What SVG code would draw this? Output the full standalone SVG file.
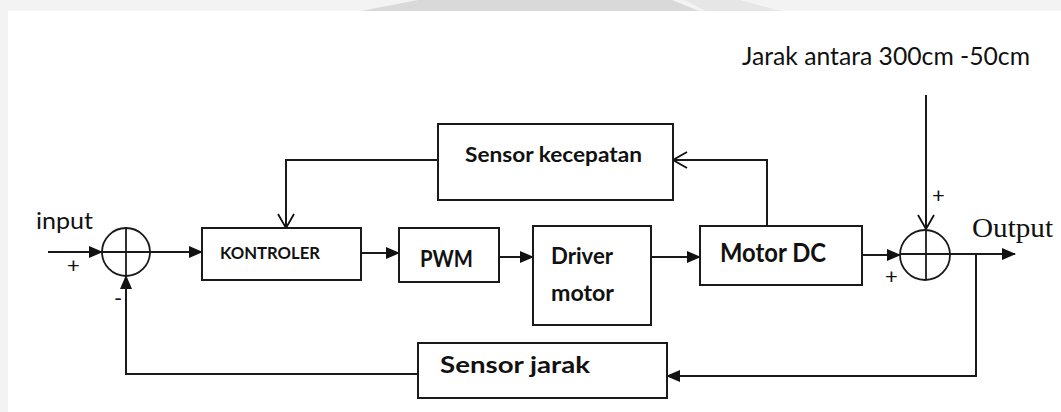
<svg xmlns="http://www.w3.org/2000/svg" width="1061" height="412" viewBox="0 0 1061 412">
  <defs>
    <marker id="solid" markerWidth="14" markerHeight="12" refX="13" refY="6" orient="auto" markerUnits="userSpaceOnUse">
      <path d="M0,0 L14,6 L0,12 Z" fill="#111"/>
    </marker>
    <marker id="open" markerWidth="16" markerHeight="18" refX="15" refY="9" orient="auto" markerUnits="userSpaceOnUse">
      <path d="M1,1 L15,9 L1,17" fill="none" stroke="#111" stroke-width="1.8"/>
    </marker>
  </defs>
  <style>
    .box { fill: #fff; stroke: #1a1a1a; stroke-width: 2; }
    .sum { fill: none; stroke: #1a1a1a; stroke-width: 1.8; }
    .wire { fill: none; stroke: #1a1a1a; stroke-width: 2; }
    .lbl { font-family: Lato, "Open Sans", sans-serif; font-weight: bold; fill: #111; }
    .reg { font-family: Lato, "Open Sans", sans-serif; fill: #111; }
    .sign { font-family: Lato, "Open Sans", sans-serif; fill: #111; font-size: 22px; }
    .serif { font-family: "Liberation Serif", serif; fill: #111; }
  </style>

  <rect width="1061" height="412" fill="#fff"/>
  <!-- faint page backdrop along the top and left edges -->
  <g id="backdrop">
    <rect x="0" y="0" width="1061" height="11" fill="#f3f3f3"/>
    <rect x="0" y="0" width="8" height="412" fill="#f3f3f3"/>
    <polygon points="361,11 418,0 672,0 699,11" fill="#d9d9d9"/>
    <polygon points="706,11 684,0 740,0 780,11" fill="#e6e6e6"/>
  </g>

  <g id="connectors">
    <!-- forward path -->
    <line class="wire" x1="48" y1="252" x2="102" y2="252" marker-end="url(#solid)"/>
    <line class="wire" x1="150" y1="252" x2="202" y2="252" marker-end="url(#solid)"/>
    <line class="wire" x1="361" y1="253" x2="399" y2="253" marker-end="url(#solid)"/>
    <line class="wire" x1="499" y1="257" x2="533" y2="257" marker-end="url(#solid)"/>
    <line class="wire" x1="651" y1="257" x2="700" y2="257" marker-end="url(#solid)"/>
    <line class="wire" x1="862" y1="255" x2="900" y2="255" marker-end="url(#solid)"/>
    <line class="wire" x1="950" y1="254" x2="1015" y2="254" marker-end="url(#solid)"/>
    <!-- disturbance input -->
    <line class="wire" x1="926" y1="95" x2="926" y2="229" marker-end="url(#open)"/>
    <!-- speed feedback -->
    <polyline class="wire" points="767,226 767,160 673,160" marker-end="url(#open)"/>
    <polyline class="wire" points="438,160 286,160 286,228" marker-end="url(#open)"/>
    <!-- distance feedback -->
    <polyline class="wire" points="976,254 976,376 667,376" marker-end="url(#solid)"/>
    <polyline class="wire" points="418,374 126,374 126,276" marker-end="url(#solid)"/>
  </g>

  <g id="sum1">
    <circle class="sum" cx="126" cy="252" r="24"/>
    <line class="sum" x1="102" y1="252" x2="150" y2="252"/>
    <line class="sum" x1="126" y1="228" x2="126" y2="276"/>
  </g>
  <g id="sum2">
    <circle class="sum" cx="925" cy="255" r="25"/>
    <line class="sum" x1="900" y1="254" x2="950" y2="254"/>
    <line class="sum" x1="926" y1="230" x2="926" y2="280"/>
  </g>

  <g id="kontroler">
    <rect class="box" x="202" y="228" width="159" height="52"/>
    <text class="lbl" x="220" y="259" font-size="17" textLength="100" lengthAdjust="spacingAndGlyphs">KONTROLER</text>
  </g>
  <g id="pwm">
    <rect class="box" x="399" y="228" width="100" height="54"/>
    <text class="lbl" x="420" y="267" font-size="22" textLength="53" lengthAdjust="spacingAndGlyphs">PWM</text>
  </g>
  <g id="driver-motor">
    <rect class="box" x="533" y="226" width="118" height="99"/>
    <text class="lbl" x="551" y="264" font-size="22" textLength="62" lengthAdjust="spacingAndGlyphs">Driver</text>
    <text class="lbl" x="551" y="301" font-size="22" textLength="63" lengthAdjust="spacingAndGlyphs">motor</text>
  </g>
  <g id="motor-dc">
    <rect class="box" x="700" y="226" width="162" height="59"/>
    <text class="lbl" x="720" y="262" font-size="26" textLength="106" lengthAdjust="spacingAndGlyphs">Motor DC</text>
  </g>
  <g id="sensor-kecepatan">
    <rect class="box" x="438" y="124" width="235" height="76"/>
    <text class="lbl" x="465" y="162" font-size="21" textLength="177" lengthAdjust="spacingAndGlyphs">Sensor kecepatan</text>
  </g>
  <g id="sensor-jarak">
    <rect class="box" x="418" y="343" width="249" height="55"/>
    <text class="lbl" x="440" y="373" font-size="23" textLength="150" lengthAdjust="spacingAndGlyphs">Sensor jarak</text>
  </g>

  <g id="labels">
    <text class="reg" x="36" y="229" font-size="24" textLength="57" lengthAdjust="spacingAndGlyphs">input</text>
    <text class="sign" x="67" y="273">+</text>
    <text class="sign" x="114" y="306">-</text>
    <text class="reg" x="742" y="65" font-size="25" textLength="288" lengthAdjust="spacingAndGlyphs">Jarak antara 300cm  -50cm</text>
    <text class="sign" x="932" y="203">+</text>
    <text class="sign" x="885" y="284">+</text>
    <text class="serif" x="972" y="237" font-size="28" textLength="81" lengthAdjust="spacingAndGlyphs">Output</text>
  </g>
</svg>
